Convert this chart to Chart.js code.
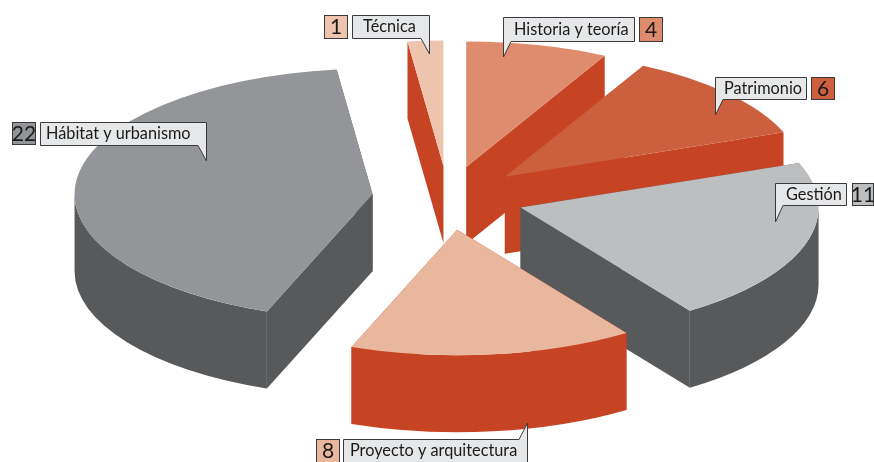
<!DOCTYPE html>
<html>
<head>
<meta charset="utf-8">
<title>Áreas</title>
<script src="https://cdn.jsdelivr.net/npm/chart.js@4"></script>
<style>
  html, body { margin: 0; padding: 0; background: #fff; overflow: hidden; }
  canvas { display: block; }
</style>
</head>
<body>
<canvas id="grafica" width="874" height="462"></canvas>
<script>
// Datos, en sentido horario desde las 12
const categorias = ['Historia y teoría', 'Patrimonio', 'Gestión', 'Proyecto y arquitectura', 'Hábitat y urbanismo', 'Técnica'];
const valores = [4, 6, 11, 8, 22, 1];

const coloresCara = ['#de8c6d', '#cc5f3e', '#bcbec0', '#e9b79d', '#939598', '#eec4af'];
const coloresLado = ['#c64323', '#c64323', '#58595b', '#c64323', '#58595b', '#c64323'];

// Perspectiva fingida: la tarta se aplasta en Y y se extruye hacia abajo
const APLASTADO = 0.421;
const GROSOR = 77;
const SEPARACION = 76;

// Cajas de las etiquetas: [x, y, ancho, alto], punta y base del piquito, inicio del texto, cuadro del numero
const cajas = [
    { caja: [503, 17, 131, 24], punta: [503, 57], base: [511, 41], lado: 'izq', textoX: 514, num: [639, 17, 23, 24] },
    { caja: [715, 77, 91, 22], punta: [715, 115], base: [723, 99], lado: 'izq', textoX: 724, num: [811, 77, 23, 22] },
    { caja: [775, 183, 71, 22], punta: [775, 222], base: [783, 205], lado: 'izq', textoX: 786, num: [852, 183, 21, 22] },
    { caja: [343, 439, 184, 23], punta: [527, 423], base: [519, 439], lado: 'arr', textoX: 350, num: [316, 439, 23, 23] },
    { caja: [40, 122, 166, 23], punta: [206, 161], base: [198, 145], lado: 'der', textoX: 46, num: [12, 122, 23, 22] },
    { caja: [352, 15, 77, 23], punta: [429, 54], base: [421, 38], lado: 'der', textoX: 363, num: [324, 15, 23, 23] }
];

// Separa cada porcion y dibuja las paredes antes que las caras de Chart.js
const pluginTresD = {
    id: 'tresD',
    afterDatasetsUpdate(chart) {
        chart.getDatasetMeta(0).data.forEach(a => {
            const medio = (a.startAngle + a.endAngle) / 2;
            a.x += Math.cos(medio) * SEPARACION;
            a.y += Math.sin(medio) * SEPARACION;
        });
    },
    beforeDatasetsDraw(chart) {
        const ctx = chart.ctx;
        const arcos = chart.getDatasetMeta(0).data;
        const cy = (chart.chartArea.top + chart.chartArea.bottom) / 2;
        const alto = GROSOR / APLASTADO;

        ctx.save();
        ctx.translate(0, cy);
        ctx.scale(1, APLASTADO);
        ctx.translate(0, -cy);

        // de atras hacia delante
        const orden = arcos.map((a, i) => i).sort((a, b) => arcos[a].y - arcos[b].y);

        orden.forEach(i => {
            const a = arcos[i];
            const r = a.outerRadius;

            ctx.fillStyle = coloresLado[i];

            // pared curva: solo la mitad delantera del borde
            const ini = Math.max(a.startAngle, 0);
            const fin = Math.min(a.endAngle, Math.PI);
            if (ini < fin) {
                ctx.beginPath();
                ctx.arc(a.x, a.y, r, ini, fin);
                ctx.arc(a.x, a.y + alto, r, fin, ini, true);
                ctx.closePath();
                ctx.fill();
            }

            [a.startAngle, a.endAngle].forEach(ang => {
                const px = a.x + Math.cos(ang) * r;
                const py = a.y + Math.sin(ang) * r;
                ctx.beginPath();
                ctx.moveTo(a.x, a.y);
                ctx.lineTo(px, py);
                ctx.lineTo(px, py + alto);
                ctx.lineTo(a.x, a.y + alto);
                ctx.closePath();
                ctx.fill();
            });
        });
        // se queda aplastado para las caras; se restaura en afterDatasetsDraw
    },
    afterDatasetsDraw(chart) {
        chart.ctx.restore();
    }
};

// Etiquetas tipo bocadillo
const pluginEtiquetas = {
    id: 'etiquetas',
    afterDraw(chart) {
        const ctx = chart.ctx;
        ctx.save();
        ctx.textBaseline = 'middle';
        categorias.forEach((nombre, i) => {
            const c = cajas[i];
            const [x, y, w, h] = c.caja;

            ctx.beginPath();
            if (c.lado === 'izq') {
                ctx.moveTo(x + 0.5, y + 0.5);
                ctx.lineTo(x + w + 0.5, y + 0.5);
                ctx.lineTo(x + w + 0.5, y + h + 0.5);
                ctx.lineTo(c.base[0], y + h + 0.5);
                ctx.lineTo(c.punta[0] + 0.5, c.punta[1]);
            } else if (c.lado === 'der') {
                ctx.moveTo(x + 0.5, y + 0.5);
                ctx.lineTo(x + w + 0.5, y + 0.5);
                ctx.lineTo(c.punta[0] + 0.5, c.punta[1]);
                ctx.lineTo(c.base[0], y + h + 0.5);
                ctx.lineTo(x + 0.5, y + h + 0.5);
            } else {
                ctx.moveTo(x + 0.5, y + 0.5);
                ctx.lineTo(c.base[0], y + 0.5);
                ctx.lineTo(c.punta[0] + 0.5, c.punta[1]);
                ctx.lineTo(x + w + 0.5, y + h + 0.5);
                ctx.lineTo(x + 0.5, y + h + 0.5);
            }
            ctx.closePath();
            ctx.fillStyle = '#e6e7e8';
            ctx.fill();
            ctx.lineWidth = 1;
            ctx.strokeStyle = '#3a3a3c';
            ctx.stroke();

            ctx.fillStyle = '#1a1a1a';
            ctx.font = '16.3px Lato';
            ctx.textAlign = 'left';
            ctx.fillText(nombre, c.textoX, y + h / 2 + 0.5);

            const [nx, ny, nw, nh] = c.num;
            ctx.fillStyle = coloresCara[i];
            ctx.fillRect(nx + 0.5, ny + 0.5, nw, nh);
            ctx.strokeRect(nx + 0.5, ny + 0.5, nw, nh);
            ctx.fillStyle = '#1a1a1a';
            ctx.font = '21px Lato';
            ctx.textAlign = 'center';
            ctx.fillText(String(valores[i]), nx + nw / 2 + 0.5, ny + nh / 2 + 1);
        });
        ctx.restore();
    }
};

new Chart(document.getElementById('grafica').getContext('2d'), {
    type: 'pie',
    data: {
        labels: categorias,
        datasets: [{
            data: valores,
            backgroundColor: coloresCara,
            borderWidth: 0,
            clip: false
        }]
    },
    options: {
        responsive: false,
        animation: false,
        radius: 298,
        layout: { padding: { left: 22, right: 0, top: 0, bottom: 66 } },
        plugins: {
            legend: { display: false },
            title: { display: false },
            tooltip: { enabled: false }
        }
    },
    plugins: [pluginTresD, pluginEtiquetas]
});
</script>
</body>
</html>
